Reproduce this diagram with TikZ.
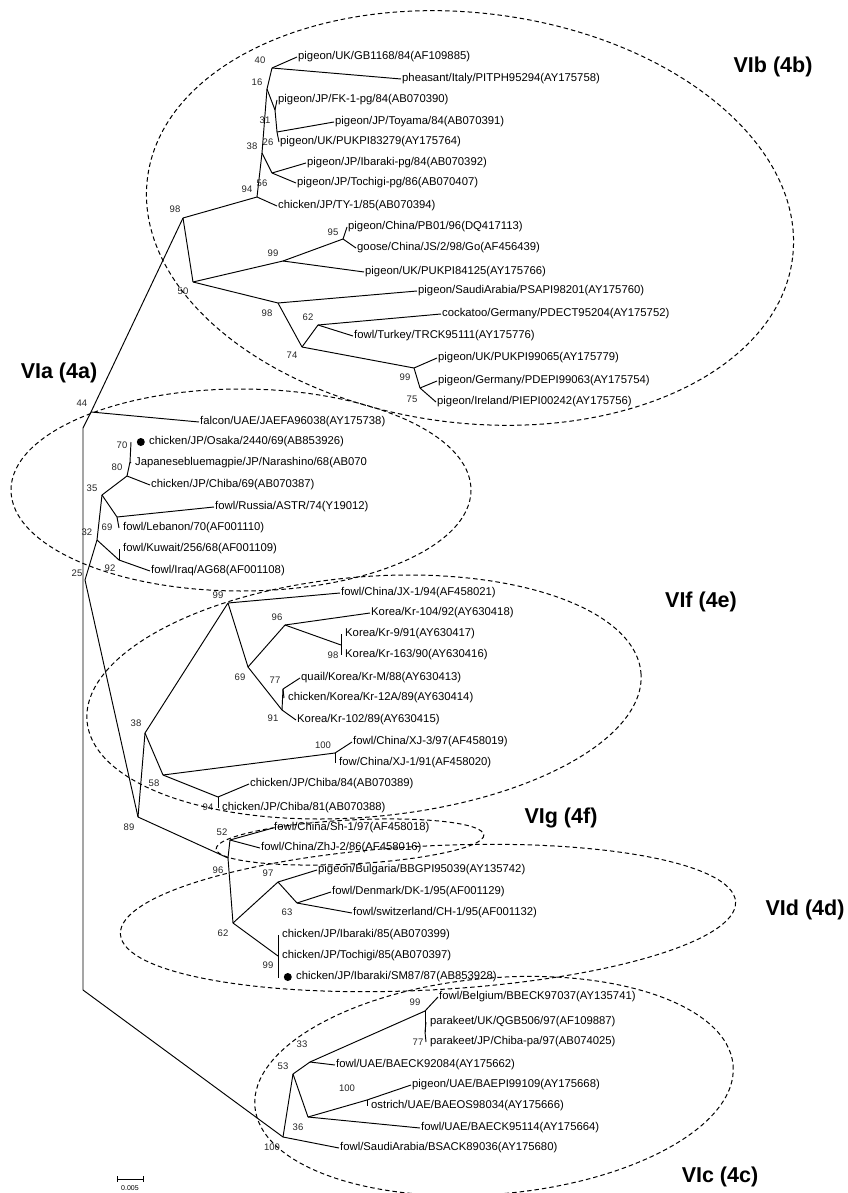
\documentclass[tikz,border=0pt]{standalone}
\usepackage{fontspec}
\setmainfont{Liberation Sans}
\usetikzlibrary{positioning}
\begin{document}
\begin{tikzpicture}[x=1pt,y=-1pt,
  leaf/.style={anchor=west,inner sep=1pt,font=\fontsize{11.3}{12}\selectfont},
  leafv/.style={leaf,inner xsep=4pt},
  bs/.style={inner sep=0pt,font=\fontsize{9.5}{10}\selectfont,text=black!85},
  clade/.style={inner sep=0pt,font=\fontsize{21.5}{24}\selectfont\bfseries},
  br/.style={line width=0.95pt},
  grp/.style={dash pattern=on 4.5pt off 3pt,line width=1pt},
  dot/.style={circle,fill,inner sep=0pt,minimum size=8pt}]
\useasboundingbox (0,0) rectangle (847,1193);
% VIb
\coordinate (n40) at (272,68); \coordinate (n16) at (267,89); \coordinate (n31) at (275,110);
\coordinate (n26) at (277,132); \coordinate (n38) at (262,153); \coordinate (n56) at (272,173);
\coordinate (n94) at (257,197); \coordinate (n98) at (183,218); \coordinate (n50) at (193,282);
\coordinate (n99) at (283,261); \coordinate (n95) at (343,239); \coordinate (n98b) at (278,303);
\coordinate (n74) at (302,347); \coordinate (n62) at (318,325); \coordinate (n99b) at (414,368);
\coordinate (n75) at (420,388);
\node[leaf] (lGB) at (297,57) {pigeon/UK/GB1168/84(AF109885)};
\node[leaf] (lPH) at (401,79) {pheasant/Italy/PITPH95294(AY175758)};
\node[leaf] (lFK) at (277,100) {pigeon/JP/FK-1-pg/84(AB070390)};
\node[leaf] (lTO) at (334,122) {pigeon/JP/Toyama/84(AB070391)};
\node[leaf] (lPU3) at (279,142) {pigeon/UK/PUKPI83279(AY175764)};
\node[leaf] (lIBp) at (306,163) {pigeon/JP/Ibaraki-pg/84(AB070392)};
\node[leaf] (lTOp) at (296,183) {pigeon/JP/Tochigi-pg/86(AB070407)};
\node[leaf] (lTY) at (277,206) {chicken/JP/TY-1/85(AB070394)};
\node[leaf] (lPB) at (347,227) {pigeon/China/PB01/96(DQ417113)};
\node[leaf] (lGO) at (356,248) {goose/China/JS/2/98/Go(AF456439)};
\node[leaf] (lPU4) at (364,272) {pigeon/UK/PUKPI84125(AY175766)};
\node[leaf] (lSA) at (417,291) {pigeon/SaudiArabia/PSAPI98201(AY175760)};
\node[leaf] (lCO) at (441,314) {cockatoo/Germany/PDECT95204(AY175752)};
\node[leaf] (lTU) at (353,336) {fowl/Turkey/TRCK95111(AY175776)};
\node[leaf] (lPU9) at (437,358) {pigeon/UK/PUKPI99065(AY175779)};
\node[leaf] (lPD) at (437,381) {pigeon/Germany/PDEPI99063(AY175754)};
\node[leaf] (lPI) at (436,402) {pigeon/Ireland/PIEPI00242(AY175756)};
\draw[br] (n98)--(n94); \draw[br] (n94)--(n38); \draw[br] (n38)--(n16); \draw[br] (n16)--(n40);
\draw[br] (n40)--(lGB.west); \draw[br] (n40)--(lPH.west); \draw[br] (n16)--(n31);
\draw[br] (n31)--(lFK.west); \draw[br] (n31)--(n26); \draw[br] (n26)--(lTO.west);
\draw[br] (n26)--(lPU3.west); \draw[br] (n38)--(n56); \draw[br] (n56)--(lIBp.west);
\draw[br] (n56)--(lTOp.west); \draw[br] (n94)--(lTY.west); \draw[br] (n98)--(n50);
\draw[br] (n50)--(n99); \draw[br] (n99)--(n95); \draw[br] (n95)--(lPB.west);
\draw[br] (n95)--(lGO.west); \draw[br] (n99)--(lPU4.west); \draw[br] (n50)--(n98b);
\draw[br] (n98b)--(lSA.west); \draw[br] (n98b)--(n74); \draw[br] (n74)--(n62);
\draw[br] (n62)--(lCO.west); \draw[br] (n62)--(lTU.west); \draw[br] (n74)--(n99b);
\draw[br] (n99b)--(lPU9.west); \draw[br] (n99b)--(n75); \draw[br] (n75)--(lPD.west);
\draw[br] (n75)--(lPI.west);
\node[bs] (b40) at (260,60) {40}; \node[bs] (b16) at (257,82) {16}; \node[bs] (b31) at (265,120) {31};
\node[bs] (b26) at (268,142) {26}; \node[bs] (b38) at (252,146) {38}; \node[bs] (b56) at (262,183) {56};
\node[bs] (b94) at (247,189) {94}; \node[bs] (b98) at (175,209) {98}; \node[bs] (b95) at (333,232) {95};
\node[bs] (b99) at (273,253) {99}; \node[bs] (b50) at (183,291) {50}; \node[bs] (b98b) at (267,313) {98};
\node[bs] (b62) at (308,317) {62}; \node[bs] (b74) at (292,355) {74}; \node[bs] (b99b) at (405,377) {99};
\node[bs] (b75) at (412,399) {75};
% VIa and spine
\coordinate (n44) at (91,412); \coordinate (sp1) at (83,428); \coordinate (sp2) at (83,990);
\coordinate (n70) at (130,462); \coordinate (eOS) at (131,442); \coordinate (n80) at (127,476);
\coordinate (n35) at (102,495); \coordinate (n69) at (117,517); \coordinate (n32) at (97,540);
\coordinate (n92) at (119,560); \coordinate (n25) at (85,580);
\node[leaf] (lFA) at (199,422) {falcon/UAE/JAEFA96038(AY175738)};
\node[leaf] (lOS) at (148,442) {chicken/JP/Osaka/2440/69(AB853926)};
\node[dot,left=3pt of lOS] (dOS) {};
\node[leafv] (lMA) at (131,463) {Japanesebluemagpie/JP/Narashino/68(AB070};
\node[leaf] (lCH) at (150,485) {chicken/JP/Chiba/69(AB070387)};
\node[leaf] (lRU) at (214,507) {fowl/Russia/ASTR/74(Y19012)};
\node[leafv] (lLE) at (119,528) {fowl/Lebanon/70(AF001110)};
\node[leafv] (lKU) at (119,549) {fowl/Kuwait/256/68(AF001109)};
\node[leaf] (lIQ) at (150,571) {fowl/Iraq/AG68(AF001108)};
\draw[br] (n98)--(n44); \draw[br] (n44)--(lFA.west); \draw[br] (n44)--(sp1)--(sp2);
\draw[br] (n70)--(eOS); \draw[br] (n70)--(lMA.west); \draw[br] (n80)--(n70); \draw[br] (n80)--(lCH.west);
\draw[br] (n35)--(n80); \draw[br] (n35)--(n69); \draw[br] (n69)--(lRU.west); \draw[br] (n69)--(lLE.west);
\draw[br] (n32)--(n35); \draw[br] (n32)--(n92); \draw[br] (n92)--(lKU.west); \draw[br] (n92)--(lIQ.west);
\draw[br] (n25)--(n32);
\node[bs] (b44) at (82,403) {44}; \node[bs] (b70) at (122,445) {70}; \node[bs] (b80) at (117,467) {80};
\node[bs] (b35) at (92,488) {35}; \node[bs] (b69) at (107,527) {69}; \node[bs] (b32) at (87,532) {32};
\node[bs] (b92) at (110,568) {92}; \node[bs] (b25) at (77,573) {25};
% VIf
\coordinate (n89) at (138,817); \coordinate (n38f) at (145,733); \coordinate (n99f) at (228,603);
\coordinate (n69f) at (248,667); \coordinate (n96f) at (285,625); \coordinate (n98f) at (341,645);
\coordinate (n91) at (282,710); \coordinate (n77) at (283,689); \coordinate (n58) at (163,775);
\coordinate (n100f) at (335,753); \coordinate (n94f) at (218,797);
\node[leaf] (lJX) at (340,593) {fowl/China/JX-1/94(AF458021)};
\node[leaf] (lK104) at (370,613) {Korea/Kr-104/92(AY630418)};
\node[leafv] (lK9) at (341,634) {Korea/Kr-9/91(AY630417)};
\node[leafv] (lK163) at (341,655) {Korea/Kr-163/90(AY630416)};
\node[leaf] (lQU) at (300,678) {quail/Korea/Kr-M/88(AY630413)};
\node[leafv] (lK12) at (284,698) {chicken/Korea/Kr-12A/89(AY630414)};
\node[leaf] (lK102) at (296,720) {Korea/Kr-102/89(AY630415)};
\node[leaf] (lXJ3) at (352,742) {fowl/China/XJ-3/97(AF458019)};
\node[leafv] (lXJ1) at (335,763) {fow/China/XJ-1/91(AF458020)};
\node[leaf] (lC84) at (249,784) {chicken/JP/Chiba/84(AB070389)};
\node[leafv] (lC81) at (218,808) {chicken/JP/Chiba/81(AB070388)};
\draw[br] (n25)--(n89); \draw[br] (n89)--(n38f); \draw[br] (n38f)--(n99f); \draw[br] (n99f)--(lJX.west);
\draw[br] (n99f)--(n69f); \draw[br] (n69f)--(n96f); \draw[br] (n96f)--(lK104.west); \draw[br] (n96f)--(n98f);
\draw[br] (n98f)--(lK9.west); \draw[br] (n98f)--(lK163.west); \draw[br] (n69f)--(n91); \draw[br] (n91)--(n77);
\draw[br] (n77)--(lQU.west); \draw[br] (n77)--(lK12.west); \draw[br] (n91)--(lK102.west);
\draw[br] (n38f)--(n58); \draw[br] (n58)--(n100f); \draw[br] (n100f)--(lXJ3.west); \draw[br] (n100f)--(lXJ1.west);
\draw[br] (n58)--(n94f); \draw[br] (n94f)--(lC84.west); \draw[br] (n94f)--(lC81.west);
\node[bs] (b99f) at (218,595) {99}; \node[bs] (b96f) at (277,617) {96}; \node[bs] (b98f) at (333,655) {98};
\node[bs] (b69f) at (240,677) {69}; \node[bs] (b77) at (275,680) {77}; \node[bs] (b91) at (273,718) {91};
\node[bs] (b38f) at (136,723) {38}; \node[bs] (b100f) at (323,745) {100}; \node[bs] (b58) at (154,783) {58};
\node[bs] (b94f) at (208,807) {94}; \node[bs] (b89) at (129,827) {89};
% VIg and VId
\coordinate (n96d) at (228,858); \coordinate (n52) at (230,840); \coordinate (n62d) at (233,923);
\coordinate (n97) at (278,882); \coordinate (n63) at (297,903); \coordinate (n99d) at (278,956);
\coordinate (eSM) at (278,978);
\node[leaf] (lSH) at (273,828) {fowl/China/Sh-1/97(AF458018)};
\node[leaf] (lZH) at (260,848) {fowl/China/ZhJ-2/86(AF458016)};
\node[leaf] (lBU) at (317,870) {pigeon/Bulgaria/BBGPI95039(AY135742)};
\node[leaf] (lDK) at (331,892) {fowl/Denmark/DK-1/95(AF001129)};
\node[leaf] (lSW) at (352,913) {fowl/switzerland/CH-1/95(AF001132)};
\node[leafv] (lIB85) at (278,935) {chicken/JP/Ibaraki/85(AB070399)};
\node[leafv] (lTO85) at (278,956) {chicken/JP/Tochigi/85(AB070397)};
\node[leaf] (lSM) at (295,977) {chicken/JP/Ibaraki/SM87/87(AB853928)};
\node[dot,left=3pt of lSM] (dSM) {};
\draw[br] (n89)--(n96d); \draw[br] (n96d)--(n52); \draw[br] (n52)--(lSH.west); \draw[br] (n52)--(lZH.west);
\draw[br] (n96d)--(n62d); \draw[br] (n62d)--(n97); \draw[br] (n97)--(lBU.west); \draw[br] (n97)--(n63);
\draw[br] (n63)--(lDK.west); \draw[br] (n63)--(lSW.west); \draw[br] (n62d)--(n99d);
\draw[br] (n99d)--(lIB85.west); \draw[br] (n99d)--(lTO85.west); \draw[br] (n99d)--(eSM);
\node[bs] (b52) at (222,832) {52}; \node[bs] (b96d) at (218,870) {96}; \node[bs] (b97) at (268,873) {97};
\node[bs] (b63) at (287,912) {63}; \node[bs] (b62d) at (223,933) {62}; \node[bs] (b99d) at (268,965) {99};
% VIc
\coordinate (n100c) at (283,1137); \coordinate (n53) at (293,1074); \coordinate (n33) at (310,1062);
\coordinate (n99c) at (425,1011); \coordinate (n77c) at (425,1032); \coordinate (n36) at (308,1117);
\coordinate (n100cc) at (367,1100);
\node[leaf] (lBE) at (438,997) {fowl/Belgium/BBECK97037(AY135741)};
\node[leafv] (lPUK) at (426,1022) {parakeet/UK/QGB506/97(AF109887)};
\node[leafv] (lPJP) at (426,1042) {parakeet/JP/Chiba-pa/97(AB074025)};
\node[leaf] (lUA1) at (335,1065) {fowl/UAE/BAECK92084(AY175662)};
\node[leaf] (lPUA) at (411,1085) {pigeon/UAE/BAEPI99109(AY175668)};
\node[leafv] (lOST) at (367,1106) {ostrich/UAE/BAEOS98034(AY175666)};
\node[leaf] (lUA2) at (420,1128) {fowl/UAE/BAECK95114(AY175664)};
\node[leaf] (lSAc) at (339,1148) {fowl/SaudiArabia/BSACK89036(AY175680)};
\draw[br] (sp2)--(n100c); \draw[br] (n100c)--(lSAc.west); \draw[br] (n100c)--(n53); \draw[br] (n53)--(n33);
\draw[br] (n33)--(n99c); \draw[br] (n99c)--(lBE.west); \draw[br] (n99c)--(n77c); \draw[br] (n77c)--(lPUK.west);
\draw[br] (n77c)--(lPJP.west); \draw[br] (n33)--(lUA1.west); \draw[br] (n53)--(n36); \draw[br] (n36)--(n100cc);
\draw[br] (n100cc)--(lPUA.west); \draw[br] (n100cc)--(lOST.west); \draw[br] (n36)--(lUA2.west);
\node[bs] (b99c) at (415,1002) {99}; \node[bs] (b77c) at (418,1042) {77}; \node[bs] (b33) at (302,1044) {33};
\node[bs] (b53) at (283,1066) {53}; \node[bs] (b100cc) at (347,1088) {100}; \node[bs] (b36) at (298,1127) {36};
\node[bs] (b100c) at (272,1147) {100};
% clades
\draw[grp,rotate around={-7:(470,218)}] (470,218) ellipse [x radius=325,y radius=205];
\draw[grp] (241,490) ellipse [x radius=230,y radius=101];
\draw[grp,rotate around={5:(364,697)}] (364,697) ellipse [x radius=278,y radius=120];
\draw[grp,rotate around={3:(350,842)}] (350,842) ellipse [x radius=134,y radius=22];
\draw[grp,rotate around={3:(428,918)}] (428,918) ellipse [x radius=308,y radius=72];
\draw[grp,rotate around={5:(494,1086)}] (494,1086) ellipse [x radius=240,y radius=108];
\node[clade] (cb) at (773,67) {VIb (4b)};
\node[clade] (ca) at (59,373) {VIa (4a)};
\node[clade] (cf) at (701,602) {VIf (4e)};
\node[clade] (cg) at (561,818) {VIg (4f)};
\node[clade] (cd) at (805,910) {VId (4d)};
\node[clade] (cc) at (720,1177) {VIc (4c)};
% scale
\coordinate (sbl) at (117,1179); \coordinate (sbr) at (143,1179);
\draw[line width=0.7pt] (sbl)--(sbr); \draw[line width=0.7pt] (117,1176)--(117,1182); \draw[line width=0.7pt] (143,1176)--(143,1182);
\node[inner sep=0pt,font=\fontsize{7}{8}\selectfont] (sbt) at (130,1188) {0.005};
\end{tikzpicture}
\end{document}
